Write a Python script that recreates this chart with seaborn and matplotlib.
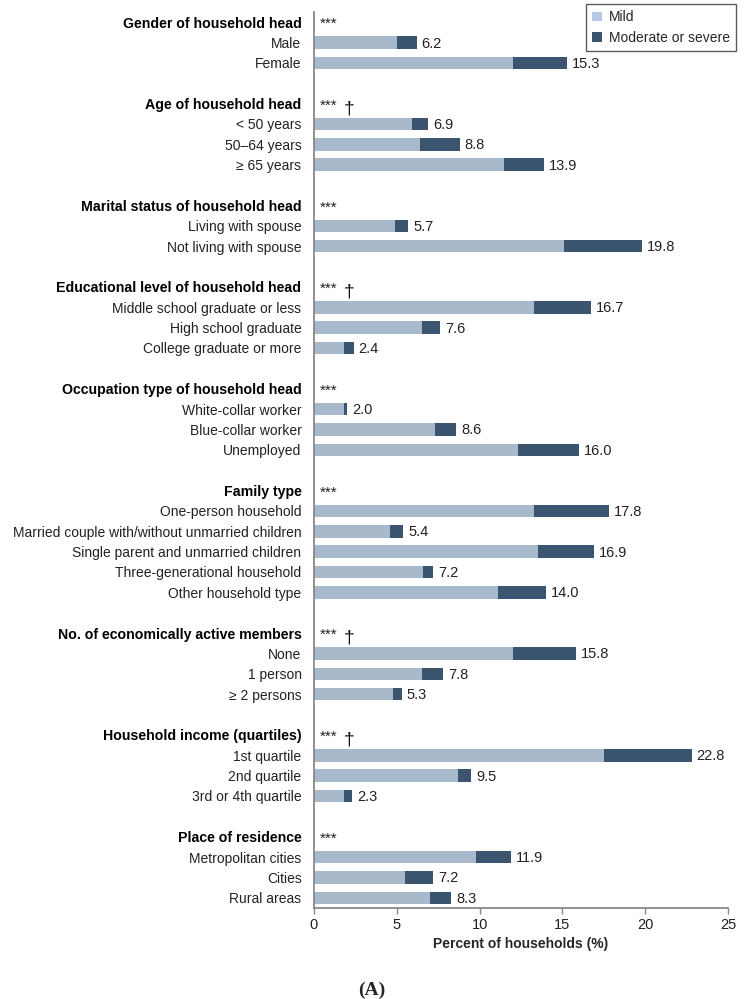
import numpy as np
import pandas as pd
import matplotlib
matplotlib.use("Agg")
import matplotlib.pyplot as plt
from matplotlib.patches import Patch
import seaborn as sns

# groups (header, significance mark) and their categories
groups = [
    "Gender of household head",
    "Age of household head",
    "Marital status of household head",
    "Educational level of household head",
    "Occupation type of household head",
    "Family type",
    "No. of economically active members",
    "Household income (quartiles)",
    "Place of residence",
]
dagger = [False, True, False, True, False, False, True, True, False]

items = [
    ["Male", "Female"],
    ["< 50 years", "50\u201364 years", "\u2265 65 years"],
    ["Living with spouse", "Not living with spouse"],
    ["Middle school graduate or less", "High school graduate", "College graduate or more"],
    ["White-collar worker", "Blue-collar worker", "Unemployed"],
    ["One-person household", "Married couple with/without unmarried children",
     "Single parent and unmarried children", "Three-generational household",
     "Other household type"],
    ["None", "1 person", "\u2265 2 persons"],
    ["1st quartile", "2nd quartile", "3rd or 4th quartile"],
    ["Metropolitan cities", "Cities", "Rural areas"],
]

# mild share and total (mild + moderate/severe), %
mild = [
    [5.0, 12.0],
    [5.9, 6.4, 11.5],
    [4.9, 15.1],
    [13.3, 6.5, 1.8],
    [1.8, 7.3, 12.3],
    [13.3, 4.6, 13.5, 6.6, 11.1],
    [12.0, 6.5, 4.8],
    [17.5, 8.7, 1.8],
    [9.8, 5.5, 7.0],
]
total = [
    [6.2, 15.3],
    [6.9, 8.8, 13.9],
    [5.7, 19.8],
    [16.7, 7.6, 2.4],
    [2.0, 8.6, 16.0],
    [17.8, 5.4, 16.9, 7.2, 14.0],
    [15.8, 7.8, 5.3],
    [22.8, 9.5, 2.3],
    [11.9, 7.2, 8.3],
]

light = "#a8b9cc"
dark = "#3b5470"

# lay out rows: header, items, blank row between groups
rows, labels, is_header, header_rows = [], [], [], []
data_rows = []
r = 0
for g, its, m, t in zip(groups, items, mild, total):
    rows.append(r); labels.append(g); is_header.append(True); header_rows.append(r)
    r += 1
    for name, mv, tv in zip(its, m, t):
        rows.append(r); labels.append(name); is_header.append(False)
        data_rows.append((r, name, mv, tv))
        r += 1
    r += 1
last = max(rows)

df = pd.DataFrame(data_rows, columns=["row", "label", "mild", "total"])

sns.set_style("white")
plt.rcParams["font.family"] = ["Liberation Sans", "DejaVu Sans"]

fig = plt.figure(figsize=(7.46, 9.99), dpi=100)
ax = fig.add_axes([314 / 746, 1 - 908 / 999, 414 / 746, 896 / 999])

sns.barplot(data=df, x="total", y="row", orient="h", native_scale=True,
            color=dark, width=0.62, saturation=1, linewidth=0, ax=ax)
sns.barplot(data=df, x="mild", y="row", orient="h", native_scale=True,
            color=light, width=0.62, saturation=1, linewidth=0, ax=ax)

# value labels
for _, row in df.iterrows():
    ax.text(row["total"] + 0.3, row["row"] + 0.05, f"{row['total']:.1f}",
            va="center", ha="left", fontsize=10.5, color="#222222")

# significance marks
for hr, dg in zip(header_rows, dagger):
    ax.text(0.35, hr + 0.1, "***", va="center", ha="left", fontsize=11, color="#222222")
    if dg:
        ax.text(2.1, hr + 0.25, "\u2020", va="center", ha="center", fontsize=14, color="#111111")

ax.set_yticks(rows)
ax.set_yticklabels(labels)
for lab, hd in zip(ax.get_yticklabels(), is_header):
    if hd:
        lab.set_fontsize(10.2)
        lab.set_fontweight("bold")
        lab.set_color("black")
    else:
        lab.set_fontsize(10)
        lab.set_color("#222222")
ax.tick_params(axis="y", length=0, pad=9)
ax.set_ylim(last + 0.5, -0.5)
ax.set_ylabel("")

ax.set_xlim(0, 25)
ax.set_xticks([0, 5, 10, 15, 20, 25])
ax.tick_params(axis="x", direction="out", length=4, width=1, color="#888888",
               labelsize=10.5, labelcolor="#222222", pad=3, bottom=True)
ax.set_xlabel("Percent of households (%)", fontsize=10, fontweight="bold", labelpad=4)

for s in ["top", "right"]:
    ax.spines[s].set_visible(False)
for s in ["left", "bottom"]:
    ax.spines[s].set_color("#888888")
    ax.spines[s].set_linewidth(1.3)

handles = [Patch(facecolor="#b4c9e6", edgecolor="none", label="Mild"),
           Patch(facecolor=dark, edgecolor="none", label="Moderate or severe")]
leg = ax.legend(handles=handles, loc="upper right",
                bbox_to_anchor=(736 / 746, 1 - 4 / 999), bbox_transform=fig.transFigure,
                borderaxespad=0, fontsize=10, frameon=True, fancybox=False,
                handlelength=0.7, handleheight=0.7, handletextpad=0.5,
                borderpad=0.45, labelspacing=0.45)
leg.get_frame().set_edgecolor("#333333")
leg.get_frame().set_linewidth(1.0)

fig.text(372 / 746, 1 - 990 / 999, "(A)", ha="center", va="center",
         fontsize=14, fontweight="bold", family="Liberation Serif")

fig.savefig("out.png", dpi=100)
